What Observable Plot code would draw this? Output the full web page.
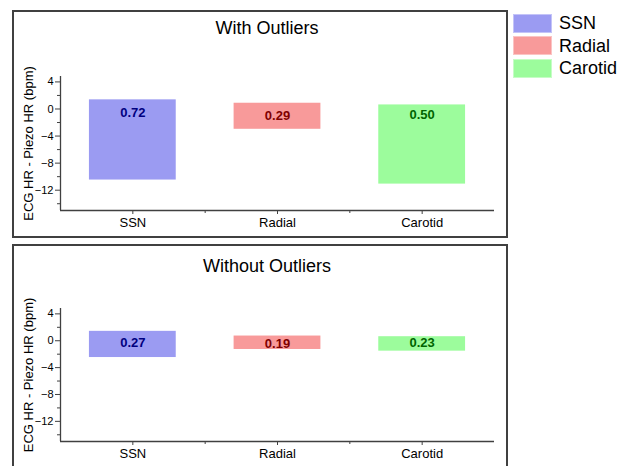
<!DOCTYPE html>
<html>
<head>
<meta charset="utf-8">
<script src="https://cdn.jsdelivr.net/npm/d3@7"></script>
<script src="https://cdn.jsdelivr.net/npm/@observablehq/plot@0.6"></script>
<style>
  html, body { margin: 0; padding: 0; background: #fff; }
  body { font-family: "Liberation Sans", Arial, sans-serif; }
  #root { position: relative; width: 618px; height: 466px; overflow: hidden; background: #fff; }
  .panel { position: absolute; left: 12px; width: 496px; border: 2px solid #404040; box-sizing: border-box; }
  .title { position: absolute; left: 0; width: 534px; text-align: center; font-size: 18px; line-height: 20px; color: #000; }
  .svgwrap { position: absolute; left: 0; }
  .legend { position: absolute; left: 513px; top: 12px; }
  .legend .row { display: flex; align-items: center; height: 22.5px; }
  .legend .sw { width: 39px; height: 19px; box-sizing: border-box; margin-right: 7px; }
  .legend .lab { font-size: 18px; color: #000; line-height: 20px; }
</style>
</head>
<body>
<div id="root">
  <div class="panel" style="top:10px;height:228px;"></div>
  <div class="panel" style="top:244px;height:240px;"></div>
  <div class="title" style="top:18px;">With Outliers</div>
  <div class="title" style="top:256px;">Without Outliers</div>
  <div class="svgwrap" id="p1" style="top:0px;"></div>
  <div class="svgwrap" id="p2" style="top:240px;"></div>
  <div class="legend" id="legend"></div>
</div>
<script>
const categories = ["SSN", "Radial", "Carotid"];
const withLow = [-10.5, -3.0, -11.1];
const withHigh = [1.35, 0.85, 0.6];
const withMean = [0.72, 0.29, 0.50];
const withoutLow = [-2.5, -1.3, -1.55];
const withoutHigh = [1.4, 0.7, 0.6];
const withoutMean = [0.27, 0.19, 0.23];
const yMajorTicks = [4, 0, -4, -8, -12];
const yMinorTicks = [2, -2, -6, -10, -14];
const fillColors = ["#9b9bf2", "#f89a9a", "#9cfc9c"];
const swatchBorders = ["#c4c4f8", "#fbc4c4", "#c6fdc6"];
const labelColors = ["#000080", "#800000", "#006400"];
const yLabel = "ECG HR - Piezo HR (bpm)";

function panel(low, high, mean, opts) {
  const data = categories.map((c, i) => ({i, cat: c, low: low[i], high: high[i], mean: mean[i]}));
  const axisColor = "#404040";
  const marks = [
    Plot.rectY(data, {x1: d => d.i - 0.3, x2: d => d.i + 0.3, y1: "low", y2: "high", fill: "cat"}),
    Plot.ruleY([-15], {stroke: axisColor, strokeWidth: 1.3}),
    Plot.ruleX([-0.5], {stroke: axisColor, strokeWidth: 1.3}),
    Plot.axisY(yMajorTicks, {tickSize: 5, tickPadding: 2, fontSize: 11, stroke: axisColor, fill: "#000", label: null}),
    Plot.axisY(yMinorTicks, {tickSize: 3, tickFormat: () => "", stroke: axisColor, label: null}),
    Plot.axisX([0, 1, 2], {tickSize: 4, tickPadding: 3, fontSize: 13, tickFormat: i => categories[i], stroke: axisColor, fill: "#000", label: null}),
    Plot.axisX([0.5, 1.5], {tickSize: 3, tickFormat: () => "", stroke: axisColor, label: null}),
    Plot.text([yLabel], {frameAnchor: "left", textAnchor: "middle", lineAnchor: "middle", rotate: -90, dx: -32, text: d => d, fontSize: 13, fill: "#000"})
  ];
  categories.forEach((c, k) => {
    marks.push(Plot.text(data.filter(d => d.i === k), {
      x: "i", y: "mean", text: d => d.mean.toFixed(2), fill: labelColors[k],
      fontWeight: "bold", fontSize: 13, dy: opts.labelDy
    }));
  });
  return Plot.plot({
    width: 618,
    height: opts.height,
    marginLeft: 60,
    marginRight: 124,
    marginTop: opts.marginTop,
    marginBottom: opts.marginBottom,
    style: {background: "transparent", fontFamily: "'Liberation Sans', Arial, sans-serif", overflow: "visible"},
    x: {type: "linear", domain: [-0.5, 2.5]},
    y: {domain: [-15, 4.8]},
    color: {domain: categories, range: fillColors},
    marks
  });
}

document.getElementById("p1").appendChild(panel(withLow, withHigh, withMean, {height: 240, marginTop: 76, marginBottom: 30, labelDy: 9}));
document.getElementById("p2").appendChild(panel(withoutLow, withoutHigh, withoutMean, {height: 226, marginTop: 68, marginBottom: 25, labelDy: 4}));

const legend = document.getElementById("legend");
categories.forEach((c, i) => {
  const row = document.createElement("div");
  row.className = "row";
  const sw = document.createElement("div");
  sw.className = "sw";
  sw.style.background = fillColors[i];
  sw.style.border = "1px solid " + swatchBorders[i];
  const lab = document.createElement("span");
  lab.className = "lab";
  lab.textContent = c;
  row.appendChild(sw);
  row.appendChild(lab);
  legend.appendChild(row);
});
</script>
</body>
</html>
